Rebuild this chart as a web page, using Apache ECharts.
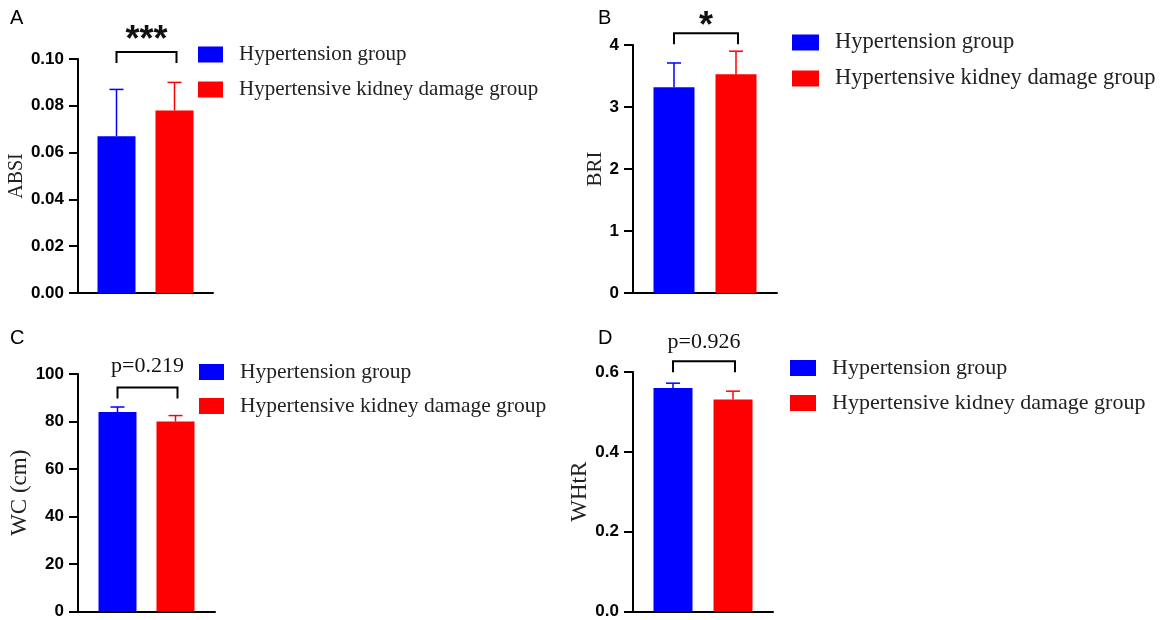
<!DOCTYPE html>
<html>
  <head>
    <meta charset="utf-8" />
    <style>
      body {margin: 0; background: #fff;}
      #chart {width: 1162px; height: 620px;}
    </style>
    <script src="https://cdn.jsdelivr.net/npm/echarts@6.0.0/dist/echarts.min.js"></script>
  </head>
  <body>
    <div id="chart"></div>
    <script type="text/javascript">
      // data
      var groups = ['Hypertension group', 'Hypertensive kidney damage group'];
      var panelLetters = ['A', 'B', 'C', 'D'];
      var yNames = ['ABSI', 'BRI', 'WC (cm)', 'WHtR'];
      var htMean = [0.067, 3.32, 84.0, 0.560];
      var htSd = [0.020, 0.39, 2.1, 0.012];
      var hkdMean = [0.078, 3.53, 80.0, 0.531];
      var hkdSd = [0.012, 0.37, 2.5, 0.021];
      var yMax = [0.10, 4, 100, 0.6];
      var yStep = [0.02, 1, 20, 0.2];
      var yDigits = [2, 0, 0, 1];
      var sigText = ['***', '*', 'p=0.219', 'p=0.926'];
      var bracketTop = [0.103, 4.19, 94.3, 0.627];

      // layout of the four panels (pixels)
      var layout = [
        {left: 78, top: 59, width: 135, height: 234, barW: 38, gap: 20, nameGap: 50, nameSize: 20,
         legLeft: 198, legTop: 44, legGap: 14, iconW: 25, legSize: 21, sigGap: 11, sigSize: 36, letter: [10, 8]},
        {left: 633, top: 45, width: 144, height: 248, barW: 41, gap: 21, nameGap: 24, nameSize: 21,
         legLeft: 792, legTop: 31, legGap: 13, iconW: 27, legSize: 22.5, sigGap: 6, sigSize: 36, letter: [598, 8]},
        {left: 78, top: 374, width: 137, height: 239, barW: 38, gap: 20, nameGap: 43, nameSize: 23,
         legLeft: 199, legTop: 361, legGap: 12, iconW: 25, legSize: 21.5, sigGap: 21, sigSize: 22, letter: [10, 328]},
        {left: 633, top: 372, width: 140, height: 241, barW: 39, gap: 21, nameGap: 20, nameSize: 23,
         legLeft: 790, legTop: 357, legGap: 13, iconW: 26, legSize: 22, sigGap: 19, sigSize: 22, letter: [598, 328]}
      ];

      var colors = ['#0000ff', '#ff0000'];
      var serif = '"Liberation Serif", "Times New Roman", serif';
      var sans = '"Liberation Sans", Arial, sans-serif';

      var grids = [], xAxes = [], yAxes = [], legends = [], series = [], graphics = [];

      layout.forEach(function (L, i) {
        grids.push({left: L.left, top: L.top, width: L.width, height: L.height});
        xAxes.push({
          type: 'category', gridIndex: i, data: [yNames[i]],
          axisLine: {lineStyle: {color: '#000', width: 2}},
          axisTick: {show: false}, axisLabel: {show: false}
        });
        yAxes.push({
          type: 'value', gridIndex: i, min: 0, max: yMax[i], interval: yStep[i],
          name: yNames[i], nameLocation: 'middle', nameRotate: 90, nameGap: L.nameGap,
          nameTextStyle: {fontFamily: serif, fontSize: L.nameSize, color: '#222'},
          axisLine: {show: true, lineStyle: {color: '#000', width: 2}},
          axisTick: {show: true, length: 9, lineStyle: {color: '#000', width: 2}},
          axisLabel: {
            margin: 14, color: '#000', fontFamily: sans, fontWeight: 'bold', fontSize: 17,
            formatter: function (v) { return v.toFixed(yDigits[i]); }
          },
          splitLine: {show: false}
        });
        legends.push({
          orient: 'vertical', left: L.legLeft, top: L.legTop, itemGap: L.legGap, padding: 0,
          itemWidth: L.iconW, itemHeight: 16, icon: 'rect', data: groups,
          textStyle: {fontFamily: serif, fontSize: L.legSize, lineHeight: 20, color: '#222', padding: [0, 0, 0, 11]}
        });

        var means = [htMean[i], hkdMean[i]];
        var sds = [htSd[i], hkdSd[i]];
        var off = (L.barW + L.gap) / 2;

        groups.forEach(function (g, k) {
          series.push({
            name: g, type: 'bar', xAxisIndex: i, yAxisIndex: i,
            barWidth: L.barW, barGap: (L.gap / L.barW * 100) + '%',
            itemStyle: {color: colors[k]}, data: [means[k]]
          });
        });

        // error bars (upward only)
        series.push({
          type: 'custom', xAxisIndex: i, yAxisIndex: i, silent: true, z: 3,
          data: [[0, means[0], sds[0], -1], [0, means[1], sds[1], 1]],
          renderItem: function (params, api) {
            var base = api.coord([0, api.value(1)]);
            var top = api.coord([0, api.value(1) + api.value(2)]);
            var x = base[0] + api.value(3) * off;
            var c = colors[params.dataIndex];
            var style = {stroke: c, lineWidth: 1.5};
            return {type: 'group', children: [
              {type: 'line', shape: {x1: x, y1: base[1], x2: x, y2: top[1]}, style: style},
              {type: 'line', shape: {x1: x - 7, y1: top[1], x2: x + 7, y2: top[1]}, style: style}
            ]};
          }
        });

        // significance bracket and label
        series.push({
          type: 'custom', xAxisIndex: i, yAxisIndex: i, silent: true, clip: false, z: 3,
          data: [[0, bracketTop[i]]],
          renderItem: function (params, api) {
            var p = api.coord([0, api.value(1)]);
            var x1 = p[0] - off, x2 = p[0] + off + 2, y = p[1];
            return {type: 'group', children: [
              {type: 'polyline', shape: {points: [[x1, y + 11], [x1, y], [x2, y], [x2, y + 11]]},
               style: {stroke: '#000', lineWidth: 2, fill: null}},
              {type: 'text', x: (x1 + x2) / 2, y: y - L.sigGap,
               style: {text: sigText[i], fill: '#111', align: 'center', verticalAlign: 'middle',
                       font: (i < 2 ? 'bold ' + L.sigSize + 'px ' + sans : L.sigSize + 'px ' + serif)}}
            ]};
          }
        });

        graphics.push({
          type: 'text', left: L.letter[0], top: L.letter[1],
          style: {text: panelLetters[i], font: '20px ' + sans, fill: '#000'}
        });
      });

      var chart = echarts.init(document.getElementById('chart'));
      chart.setOption({
        animation: false,
        color: colors,
        grid: grids,
        xAxis: xAxes,
        yAxis: yAxes,
        legend: legends,
        series: series,
        graphic: graphics
      });
    </script>
  </body>
</html>
